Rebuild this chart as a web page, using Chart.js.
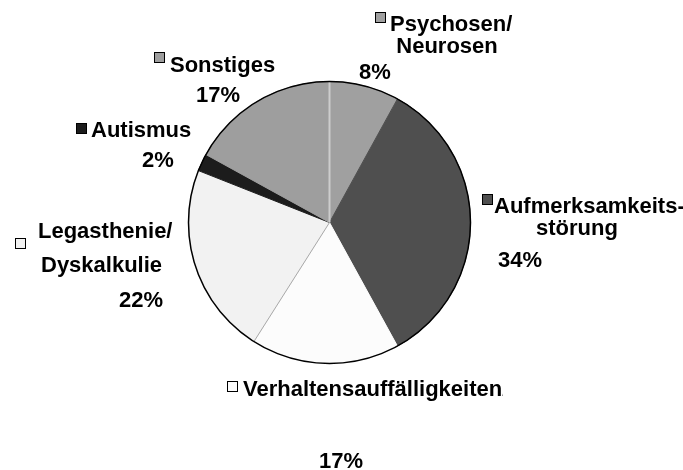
<!DOCTYPE html>
<html lang="de">
<head>
<meta charset="utf-8">
<title>Diagnosen</title>
<script src="https://cdn.jsdelivr.net/npm/chart.js@4/dist/chart.umd.min.js"></script>
<style>
    html, body { margin: 0; padding: 0; background: #fff; }
    #chart-wrap { width: 683px; height: 470px; }
</style>
</head>
<body>
<div id="chart-wrap"><canvas id="pie-chart" width="683" height="470"></canvas></div>
<script>
// Chart data
const categories = ['Psychosen/Neurosen', 'Aufmerksamkeitsstörung', 'Verhaltensauffälligkeiten', 'Legasthenie/Dyskalkulie', 'Autismus', 'Sonstiges'];
const values = [8, 34, 17, 22, 2, 17];
const labelLines = [
    ['Psychosen/', 'Neurosen'],
    ['Aufmerksamkeits-', 'störung'],
    ['Verhaltensauffälligkeiten/'],
    ['Legasthenie/', 'Dyskalkulie'],
    ['Autismus'],
    ['Sonstiges']
];

// Slice colours (greyscale like the original)
const sliceColors = ['#a0a0a0', '#4f4f4f', '#fcfcfc', '#f2f2f2', '#1c1c1c', '#9e9e9e'];

// Where each label sits on the canvas: square marker, text lines, percentage
const labelLayout = [
    { box: [375, 12], lines: [[390, 31, 'left'], [447, 53, 'center']], pct: [375, 79] },
    { box: [482, 194], lines: [[494, 213, 'left'], [577, 235, 'center']], pct: [520, 267] },
    { box: [227, 381], lines: [[243, 396, 'left']], pct: [341, 468], clipRight: 503 },
    { box: [15, 238], lines: [[38, 238, 'left'], [41, 272, 'left']], pct: [141, 307] },
    { box: [76, 123], lines: [[91, 137, 'left']], pct: [158, 167] },
    { box: [154, 52], lines: [[170, 72, 'left']], pct: [218, 102] }
];

const labelFont = 'bold 22px "Liberation Sans", Arial, sans-serif';

// Outline, separator lines and outside labels
const pieDecorations = {
    id: 'pieDecorations',
    afterDatasetsDraw(chart) {
        const ctx = chart.ctx;
        const arcs = chart.getDatasetMeta(0).data;
        const cx = arcs[0].x;
        const cy = arcs[0].y;
        const r = arcs[0].outerRadius;

        // light separator at 12 o'clock, thin grey one between Verhalten / Legasthenie
        const separators = [[0, '#cdcdcd', 2], [3, '#a8a8a8', 1]];
        separators.forEach(([idx, color, width]) => {
            const a = arcs[idx].startAngle;
            ctx.save();
            ctx.strokeStyle = color;
            ctx.lineWidth = width;
            ctx.beginPath();
            ctx.moveTo(cx, cy);
            ctx.lineTo(cx + Math.cos(a) * r, cy + Math.sin(a) * r);
            ctx.stroke();
            ctx.restore();
        });

        // black outline round the pie
        ctx.save();
        ctx.strokeStyle = '#000';
        ctx.lineWidth = 1.5;
        ctx.beginPath();
        ctx.arc(cx, cy, r, 0, Math.PI * 2);
        ctx.stroke();
        ctx.restore();

        // labels
        const total = values.reduce((a, b) => a + b, 0);
        ctx.save();
        ctx.font = labelFont;
        ctx.fillStyle = '#000';
        ctx.textBaseline = 'alphabetic';
        labelLayout.forEach((layout, i) => {
            // marker square
            ctx.fillStyle = sliceColors[i];
            ctx.fillRect(layout.box[0], layout.box[1], 11, 11);
            ctx.strokeStyle = '#000';
            ctx.lineWidth = 1;
            ctx.strokeRect(layout.box[0] + 0.5, layout.box[1] + 0.5, 10, 10);

            ctx.fillStyle = '#000';
            ctx.save();
            if (layout.clipRight) {
                ctx.beginPath();
                ctx.rect(0, 0, layout.clipRight, chart.height);
                ctx.clip();
            }
            layout.lines.forEach(([x, y, align], j) => {
                ctx.textAlign = align;
                ctx.fillText(labelLines[i][j], x, y);
            });
            ctx.restore();

            ctx.textAlign = 'center';
            ctx.fillText(Math.round(values[i] / total * 100) + '%', layout.pct[0], layout.pct[1]);
        });
        ctx.restore();
    }
};

document.addEventListener('DOMContentLoaded', function() {
    const canvas = document.getElementById('pie-chart');
    new Chart(canvas, {
        type: 'pie',
        data: {
            labels: categories,
            datasets: [{
                data: values,
                backgroundColor: sliceColors,
                borderColor: sliceColors,
                borderWidth: 1
            }]
        },
        options: {
            responsive: false,
            animation: false,
            layout: {
                padding: { top: 81, bottom: 106, left: 188, right: 212 }
            },
            plugins: {
                legend: { display: false },
                tooltip: { enabled: false }
            }
        },
        plugins: [pieDecorations]
    });
});
</script>
</body>
</html>
